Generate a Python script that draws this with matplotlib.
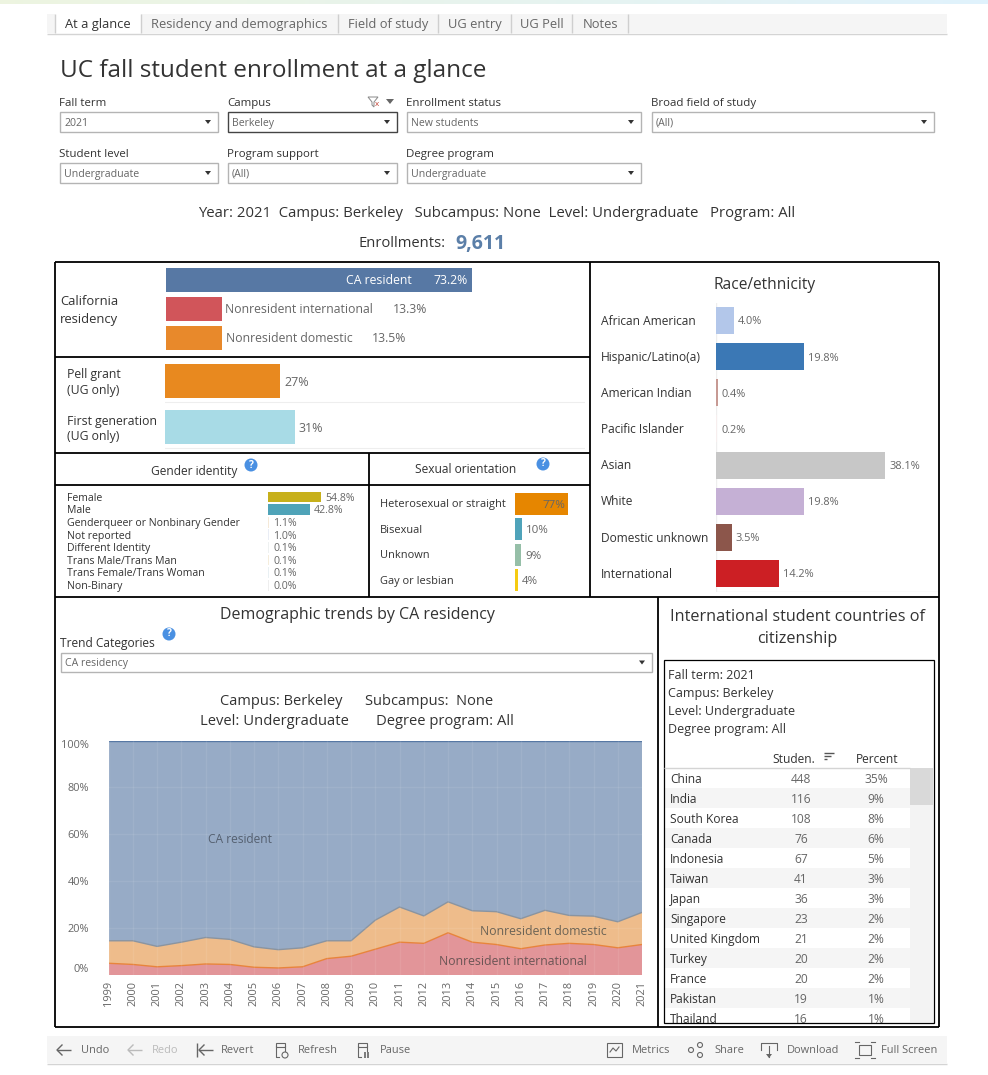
import numpy as np
import matplotlib
matplotlib.use("Agg")
import matplotlib.pyplot as plt
from matplotlib.patches import Rectangle, Circle, Polygon
from matplotlib.transforms import ScaledTranslation

plt.rcParams['font.family'] = ['Open Sans', 'DejaVu Sans']

W, H = 988, 1075

# data
tabs = ["At a glance", "Residency and demographics", "Field of study", "UG entry", "UG Pell", "Notes"]

residency_labels = ["CA resident", "Nonresident international", "Nonresident domestic"]
residency_values = [73.2, 13.3, 13.5]

pell_labels = ["Pell grant", "First generation"]
pell_values = [27.4, 30.9]

gender_labels = ["Female", "Male", "Genderqueer or Nonbinary Gender", "Not reported",
                 "Different Identity", "Trans Male/Trans Man", "Trans Female/Trans Woman", "Non-Binary"]
gender_values = [54.8, 42.8, 1.1, 1.0, 0.1, 0.1, 0.1, 0.0]

orientation_labels = ["Heterosexual or straight", "Bisexual", "Unknown", "Gay or lesbian"]
orientation_values = [77, 10, 9, 4]

race_labels = ["African American", "Hispanic/Latino(a)", "American Indian", "Pacific Islander",
               "Asian", "White", "Domestic unknown", "International"]
race_values = [4.0, 19.8, 0.4, 0.2, 38.1, 19.8, 3.5, 14.2]

years = list(range(1999, 2022))
nonres_intl = [5, 4.5, 3.5, 4, 4.7, 4.5, 3.3, 3, 3.5, 7, 8, 11, 14, 13.5, 18, 14, 13, 11.2, 12.8, 13.5, 13, 11.6, 13]
nonres_dom = [9.6, 10.1, 8.7, 10, 11.3, 10.7, 8.7, 7.8, 8.1, 7.6, 6.6, 12.4, 15, 11.7, 13.2, 13.4, 14, 12.8, 14.8,
              11.9, 12.1, 11.1, 13.7]
ca_resident = [85.4, 85.4, 87.8, 86, 84, 84.8, 88, 89.2, 88.4, 85.4, 85.4, 76.6, 71, 74.8, 68.8, 72.6, 73, 76, 72.4,
               74.6, 74.9, 77.3, 73.3]
trend_ticks = [0, 20, 40, 60, 80, 100]

countries = ["China", "India", "South Korea", "Canada", "Indonesia", "Taiwan", "Japan", "Singapore",
             "United Kingdom", "Turkey", "France", "Pakistan", "Thailand"]
students = [448, 116, 108, 76, 67, 41, 36, 23, 21, 20, 20, 19, 16]
percents = [35, 9, 8, 6, 5, 3, 3, 2, 2, 2, 2, 1, 1]

DARK = "#333333"
GREY = "#666666"


def fs(px):
    return px * 72 / 100


def px_axes(x0, y0, x1, y1, xmax, n):
    # axes placed in dashboard pixels, one row per category
    ax = fig.add_axes([x0 / W, 1 - y1 / H, (x1 - x0) / W, (y1 - y0) / H], zorder=1)
    ax.set_xlim(0, xmax)
    ax.set_ylim(n - 0.5, -0.5)
    ax.patch.set_alpha(0)
    ax.set_xticks([])
    ax.set_yticks([])
    for s in ax.spines.values():
        s.set_visible(False)
    return ax


def txt(x, y, s, size=12.5, color=DARK, ha="left", **kw):
    # open sans sits a bit high when centred, push it down with the size
    return ov.text(x, y + size * 0.12, s, fontsize=fs(size), color=color, ha=ha, va="center", **kw)


def rect(x0, y0, x1, y1, fc="none", ec="none", lw=0, **kw):
    ov.add_patch(Rectangle((x0, y0), x1 - x0, y1 - y0, fc=fc, ec=ec, lw=lw, **kw))


def line(xs, ys, color="black", lw=1.5):
    ov.plot(xs, ys, color=color, lw=lw, solid_capstyle="butt")


def dropdown(x0, x1, y0, y1, value, label=None, ec="#b4b4b4"):
    rect(x0, y0, x1, y1, fc="white", ec=ec, lw=1)
    txt(x0 + 4, (y0 + y1) / 2, value, size=10.5, color=GREY)
    ov.add_patch(Polygon([[x1 - 13, (y0 + y1) / 2 - 2], [x1 - 7, (y0 + y1) / 2 - 2], [x1 - 10, (y0 + y1) / 2 + 2]],
                         fc="#333333"))
    if label:
        txt(x0 - 1, y0 - 10, label, size=11.5)


def help_icon(x, y):
    ov.add_patch(Circle((x, y), 6.5, fc="#4a90e2", ec="none"))
    ov.text(x, y, "?", fontsize=fs(10), color="white", ha="center", va="center", fontweight="bold")


fig = plt.figure(figsize=(W / 100, H / 100), dpi=100, facecolor="white")
ov = fig.add_axes([0, 0, 1, 1], zorder=10)
ov.set_xlim(0, W)
ov.set_ylim(H, 0)
ov.axis("off")
ov.patch.set_alpha(0)

# strip along the top edge
strip = np.linspace(0, 1, 256)[None, :, None] * np.array([0.88 - 0.93, 0.95 - 0.96, 0.99 - 0.88]) \
    + np.array([0.93, 0.96, 0.88])
ov.imshow(strip, extent=(0, W, 4, 0), aspect="auto", zorder=0)
ov.set_xlim(0, W)
ov.set_ylim(H, 0)

# tab bar
rect(47, 14, 947, 33, fc="#f5f5f5")
line([47, 947], [33.5, 33.5], color="#d4d4d4", lw=1)
rect(55, 14, 141, 34, fc="white")
tab_edges = [55, 141, 338, 438, 511, 572, 628]
for i, name in enumerate(tabs):
    txt((tab_edges[i] + tab_edges[i + 1]) / 2, 22.5, name, size=12.9, ha="center",
        color=DARK if i == 0 else GREY)
for e in tab_edges:
    line([e, e], [14, 33], color="#cfcfcf", lw=1)

txt(60, 68, "UC fall student enrollment at a glance", size=24.2)

# filters
dropdown(60, 218, 112, 132, "2021", "Fall term")
dropdown(228, 397, 112, 132, "Berkeley", "Campus", ec="#444444")
dropdown(407, 641, 112, 132, "New students", "Enrollment status")
dropdown(652, 934, 112, 132, "(All)", "Broad field of study")
dropdown(60, 218, 163, 183, "Undergraduate", "Student level")
dropdown(228, 397, 163, 183, "(All)", "Program support")
dropdown(407, 641, 163, 183, "Undergraduate", "Degree program")
ov.add_patch(Polygon([[368, 97], [378, 97], [374, 102], [374, 107], [372, 105], [372, 102]], fc="none",
                     ec="#888888", lw=0.7))
ov.text(377, 105, "x", fontsize=fs(8), color="#c0392b", ha="center", va="center")
ov.add_patch(Polygon([[386, 99], [394, 99], [390, 104]], fc="#666666"))

txt(497, 212, "Year: 2021  Campus: Berkeley   Subcampus: None  Level: Undergraduate   Program: All", size=14.85,
    ha="center")
txt(358, 242, "Enrollments:", size=14.8)
txt(455, 242, "9,611", size=19.5, color="#5b7fa8", fontweight="bold")

# California residency
ax = px_axes(166, 265.5, 584, 352.5, 100, 3)
ax.barh(range(3), residency_values, height=0.83, color=["#5778a4", "#d1555a", "#e8892b"])
txt(60, 300, "California", size=13)
txt(60, 318, "residency", size=13)
txt(346, 279, residency_labels[0], size=12.2, color="white")
txt(468, 279, f"{residency_values[0]}%", size=12.2, color="white", ha="right")
txt(225, 308, residency_labels[1], size=12.2, color=GREY)
txt(393, 308, f"{residency_values[1]}%", size=12.2, color=GREY)
txt(226, 337, residency_labels[2], size=12.2, color=GREY)
txt(372, 337, f"{residency_values[2]}%", size=12.2, color=GREY)

# Pell and first generation
ax = px_axes(165, 358, 585, 450, 100, 2)
ax.barh(range(2), pell_values, height=0.72, color=["#e8891f", "#a8dbe6"])
for i, v in enumerate(pell_values):
    ax.annotate(f"{v:.0f}%", (v, i), xytext=(3, -1), textcoords="offset points", va="center",
                fontsize=fs(12.5), color=GREY)
    ax.axhline(i + 0.45, color="#eeeeee", lw=0.8)
txt(67, 373, "Pell grant", size=12.2)
txt(67, 389, "(UG only)", size=12.2)
txt(67, 420, "First generation", size=12.2)
txt(67, 435, "(UG only)", size=12.2)

# gender identity
gender_colors = ["#c7b01b", "#4fa3b8", "#f5e9d8", "#e9edf5", "#eef1f1", "#f5eddc", "#e9f0f3", "#eeeeee"]
ax = px_axes(268, 490.7, 365, 591.5, 100, 8)
ax.barh(range(8), [max(v, 1.2) for v in gender_values], height=0.85, color=gender_colors)
for i, v in enumerate(gender_values):
    ax.annotate(f"{v:.1f}%", (max(v, 1.2), i), xytext=(3, -1), textcoords="offset points", va="center",
                fontsize=fs(10.5), color=GREY)
for i, name in enumerate(gender_labels):
    t = txt(67, 497 + i * 12.6, name, size=10.5)
    t.set_clip_path(Rectangle((55, 486), 310, 105, transform=ov.transData))
txt(194, 470.5, "Gender identity", size=12, ha="center")
help_icon(251, 465)

# sexual orientation
ax = px_axes(515, 491, 584, 593, 100, 4)
ax.barh(range(4), orientation_values, height=0.85, color=["#e68600", "#4fa3ba", "#96bfa8", "#f5cb11"])
for i, v in enumerate(orientation_values):
    if i == 0:
        ax.annotate(f"{v}%", (v, i), xytext=(-2, -1), textcoords="offset points", va="center", ha="right",
                    fontsize=fs(11.5), color=GREY)
    else:
        ax.annotate(f"{v}%", (v, i), xytext=(3, -1), textcoords="offset points", va="center",
                    fontsize=fs(11.5), color=GREY)
    txt(380, 503.5 + i * 25.5, orientation_labels[i], size=11)
txt(466, 468.5, "Sexual orientation", size=12, ha="center")
help_icon(543, 464)

# race/ethnicity
race_colors = ["#b3c7ea", "#3b78b5", "#c79a94", "#f7eeee", "#c7c7c7", "#c5b0d5", "#8c564b", "#cc1f24"]
ax = px_axes(716, 302.5, 938, 591.5, 50, 8)
ax.barh(range(8), race_values, height=0.75, color=race_colors)
ax.axvline(0, color="#eeeeee", lw=1, zorder=0)
ax.axhline(7.5, color="#eeeeee", lw=1, zorder=0)
for i, v in enumerate(race_values):
    ax.annotate(f"{v:.1f}%", (v, i), xytext=(3, -1), textcoords="offset points", va="center",
                fontsize=fs(11), color=GREY)
    txt(601, 320 + i * 36.1, race_labels[i], size=12)
txt(765, 283, "Race/ethnicity", size=15.5, ha="center")

# trend panel
txt(357, 613, "Demographic trends by CA residency", size=16, ha="center")
txt(60, 642, "Trend Categories", size=12)
help_icon(169, 634)
dropdown(61, 652, 653, 672, "CA residency")
txt(357, 700, "Campus: Berkeley      Subcampus:  None", size=14.6, ha="center")
txt(357, 720, "Level: Undergraduate       Degree program: All", size=14.8, ha="center")

ax = fig.add_axes([108.6 / W, 1 - 975 / H, (642 - 108.6) / W, 234.5 / H], zorder=1)
ax.stackplot(years, nonres_intl, nonres_dom, ca_resident, colors=["#d1555a", "#e49444", "#5778a4"], alpha=0.62,
             lw=0)
trend_intl = np.array(nonres_intl)
trend_dom = trend_intl + np.array(nonres_dom)
ax.plot(years, trend_intl, color="#e8843c", lw=1)
ax.plot(years, trend_dom, color="#8a94a0", lw=1)
ax.plot(years, trend_dom + np.array(ca_resident), color="#5778a4", lw=1)
ax.set_xlim(1999, 2021)
ax.set_ylim(0, 100)
ax.set_xticks(years)
ax.set_xticklabels(years, rotation=90, fontsize=fs(11), color=GREY)
ax.set_yticks(trend_ticks)
ax.set_yticklabels([f"{v}%" for v in trend_ticks], fontsize=fs(11), color=GREY)
# end labels stay inside the plot height
ax.get_yticklabels()[0].set_va("bottom")
top_label = ax.get_yticklabels()[-1]
top_label.set_va("top")
top_label.set_transform(top_label.get_transform() + ScaledTranslation(0, -3 / 100, fig.dpi_scale_trans))
ax.tick_params(axis="x", length=0, pad=4)
ax.tick_params(axis="y", length=0, pad=14)
for s in ax.spines.values():
    s.set_visible(False)
ax.patch.set_alpha(0)
for y in [20, 40, 60, 80]:
    ax.plot([1999, 2021], [y, y], color="white", alpha=0.08, lw=1)
for y in years:
    ax.axvline(y, color="white", alpha=0.08, lw=1)
txt(208, 838, "CA resident", size=12, color="#556070")
txt(480, 930, "Nonresident domestic", size=12.3, color="#6b6355")
txt(439, 960, "Nonresident international", size=12.3, color="#6b5555")

# international table
txt(797, 615, "International student countries of", size=16.3, ha="center")
txt(797, 637, "citizenship", size=16.3, ha="center")
for i, s in enumerate(["Fall term: 2021", "Campus: Berkeley", "Level: Undergraduate", "Degree program: All"]):
    txt(668, 674 + i * 18, s, size=12.5)
txt(794, 758, "Studen.", size=12, ha="center")
txt(877, 758, "Percent", size=12, ha="center")
for y, x1 in zip([753, 756, 759], [834, 831, 827]):
    line([824, x1], [y, y], color="#555555", lw=1)
line([664, 910], [768, 768], color="#d4d4d4", lw=1)
rect(910, 768, 933, 1022, fc="#f3f3f3")
rect(910, 768, 933, 805, fc="#d9d9d9")
clip = Rectangle((664, 660), 270, 362, transform=ov.transData)
for i, name in enumerate(countries):
    row_y = 778 + i * 20
    if i % 2 == 1:
        rect(664, row_y - 10, 910, min(row_y + 10, 1022), fc="#f5f5f5")
    for t in [txt(670, row_y, name, size=12),
              txt(801, row_y, str(students[i]), size=12, color=GREY, ha="center"),
              txt(876, row_y, f"{percents[i]}%", size=12, color=GREY, ha="center")]:
        t.set_clip_path(clip)
rect(663.5, 659.5, 934, 1023, ec="black", lw=0.9)

# panel borders
for xs, ys in [([55, 939], [262, 262]), ([55, 55], [262, 597]), ([939, 939], [262, 597]),
               ([590, 590], [262, 597]), ([55, 939], [597, 597]), ([55, 590], [357, 357]),
               ([55, 590], [453, 453]), ([55, 590], [485, 485]), ([369, 369], [453, 597]),
               ([55, 55], [597, 1027]), ([658, 658], [597, 1027]), ([55, 939], [1027, 1027]),
               ([939, 939], [597, 1027])]:
    line(xs, ys, lw=1.3)

# toolbar
rect(47, 1036, 947, 1063, fc="#f5f5f5")
line([47, 947], [1063.5, 1063.5], color="#d4d4d4", lw=1)
for x, s, c in [(81, "Undo", GREY), (152, "Redo", "#bbbbbb"), (221, "Revert", GREY), (298, "Refresh", GREY),
                (380, "Pause", GREY), (632, "Metrics", GREY), (714, "Share", GREY), (787, "Download", GREY),
                (881, "Full Screen", GREY)]:
    txt(x, 1049, s, size=11, color=c)
for x, c in [(57, GREY), (128, "#bbbbbb"), (199, GREY)]:
    line([x, x + 14], [1050, 1050], color=c, lw=1)
    ov.plot([x + 5, x, x + 5], [1045, 1050, 1055], color=c, lw=1)
line([197, 197], [1043, 1057], color=GREY, lw=1)
# refresh and pause icons
for x in [276, 358]:
    ov.plot([x, x, x + 3], [1046, 1057, 1057], color=GREY, lw=0.8)
    ov.plot([x + 9, x + 9], [1046, 1051], color=GREY, lw=0.8)
    rect(x, 1043, x + 9, 1047, ec=GREY, lw=0.8)
ov.add_patch(Circle((285, 1055), 3, fc="none", ec=GREY, lw=0.8))
line([365, 365], [1052, 1058], color=GREY, lw=1.2)
line([368, 368], [1052, 1058], color=GREY, lw=1.2)
rect(607, 1043, 622, 1057, ec=GREY, lw=0.8)
ov.plot([610, 613, 616, 619], [1052, 1048, 1051, 1047], color=GREY, lw=0.8)
for x, y in [(691, 1050), (700, 1045), (700, 1055)]:
    ov.add_patch(Circle((x, y), 2.5, fc="none", ec=GREY, lw=0.8))
ov.plot([761, 761, 777, 777], [1050, 1043, 1043, 1050], color=GREY, lw=0.8)
ov.plot([769, 769], [1046, 1057], color=GREY, lw=0.8)
ov.add_patch(Polygon([[766, 1054], [772, 1054], [769, 1058]], fc=GREY))
rect(859, 1045, 871, 1055, ec=GREY, lw=0.8)
for x0, x1, y0 in [(855, 875, 1042), (855, 875, 1058)]:
    ov.plot([x0, x0 + 4], [y0, y0], color=GREY, lw=0.8)
    ov.plot([x1 - 4, x1], [y0, y0], color=GREY, lw=0.8)

fig.savefig("out.png", dpi=100)
